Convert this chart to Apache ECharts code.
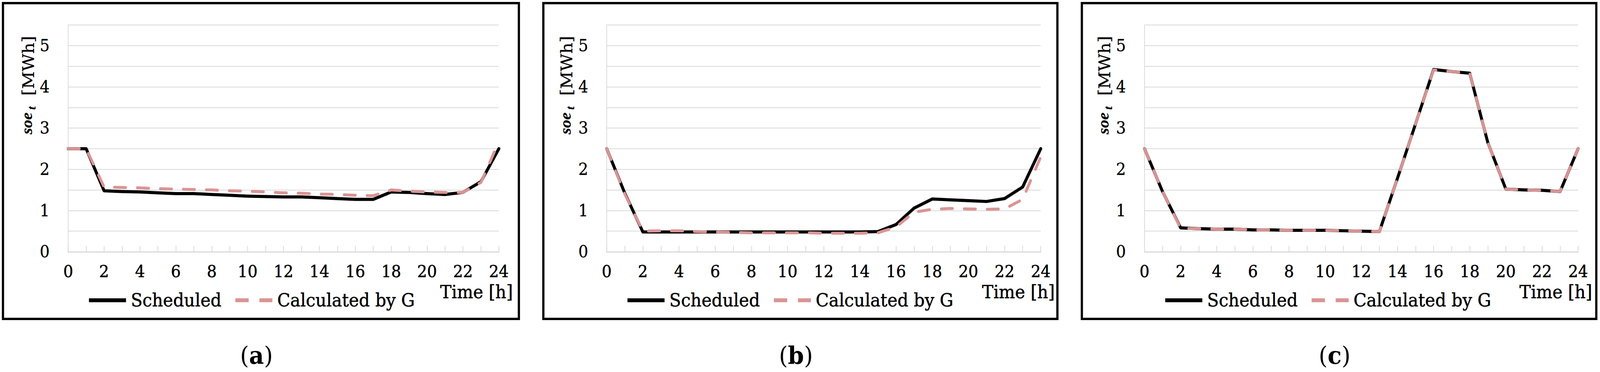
<!DOCTYPE html>
<html>
<head>
<meta charset="utf-8">
<script src="https://cdn.jsdelivr.net/npm/echarts@6/dist/echarts.min.js"></script>
<style>
  html, body { margin: 0; padding: 0; background: #fff; overflow: hidden; }
  #chart { width: 4317px; height: 953px; transform-origin: 0 0; }
</style>
</head>
<body>
<div id="chart"></div>
<script>
// ---- data ----
const hours = [0,1,2,3,4,5,6,7,8,9,10,11,12,13,14,15,16,17,18,19,20,21,22,23,24];
const xTicks = [0,2,4,6,8,10,12,14,16,18,20,22,24];
const yTicks = [0,1,2,3,4,5];
const seriesNames = ['Scheduled', 'Calculated by G'];
const panelLetters = ['a', 'b', 'c'];

const scheduledA = [2.5, 2.5, 1.48, 1.46, 1.45, 1.43, 1.41, 1.41, 1.39, 1.37, 1.35, 1.34, 1.33, 1.33, 1.31, 1.29, 1.27, 1.27, 1.45, 1.44, 1.41, 1.39, 1.44, 1.7, 2.5];
const calculatedA = [2.5, 2.5, 1.57, 1.56, 1.55, 1.53, 1.52, 1.51, 1.5, 1.48, 1.47, 1.45, 1.43, 1.42, 1.4, 1.39, 1.37, 1.36, 1.5, 1.47, 1.45, 1.44, 1.44, 1.68, 2.67];

const scheduledB = [2.5, 1.42, 0.48, 0.48, 0.48, 0.48, 0.48, 0.48, 0.48, 0.48, 0.48, 0.48, 0.48, 0.48, 0.48, 0.49, 0.66, 1.06, 1.28, 1.26, 1.24, 1.22, 1.29, 1.57, 2.5];
const calculatedB = [2.5, 1.4, 0.5, 0.51, 0.51, 0.49, 0.48, 0.47, 0.46, 0.46, 0.46, 0.46, 0.45, 0.45, 0.45, 0.46, 0.6, 0.96, 1.03, 1.05, 1.04, 1.03, 1.04, 1.27, 2.3];

const scheduledC = [2.5, 1.46, 0.58, 0.56, 0.55, 0.55, 0.53, 0.53, 0.52, 0.52, 0.52, 0.51, 0.5, 0.49, 1.78, 3.1, 4.42, 4.37, 4.33, 2.65, 1.52, 1.5, 1.49, 1.46, 2.5];
const calculatedC = [2.5, 1.46, 0.57, 0.56, 0.55, 0.55, 0.53, 0.53, 0.52, 0.52, 0.52, 0.51, 0.5, 0.49, 1.78, 3.1, 4.41, 4.37, 4.33, 2.65, 1.52, 1.5, 1.49, 1.46, 2.5];

const scheduledAll = [scheduledA, scheduledB, scheduledC];
const calculatedAll = [calculatedA, calculatedB, calculatedC];

// ---- layout (positions / styles only) ----
const W = 4317, H = 953;
const layout = [
  { frameX: 8,    frameW: 1392, gridLeft: 184,  gridW: 1162 },
  { frameX: 1466, frameW: 1387, gridLeft: 1637, gridW: 1171 },
  { frameX: 2919, frameW: 1388, gridLeft: 3088, gridW: 1170 }
];
const GRID_TOP = 64, GRID_H = 581;
const FONT = "'DejaVu Serif', serif";
const ITALIC_FONT = "'Liberation Serif', serif";
const GRAY = '#D9D9D9';
const PINK = '#D99594';
const LINE_W = 8;
const TXT_BORDER = 0.7;

const grids = [], xAxes = [], yAxes = [], series = [], legends = [], graphics = [];

function plainText(x, y, rotation, text, st, align, vAlign) {
  return {
    type: 'text', x: x, y: y, rotation: rotation,
    style: Object.assign({
      text: text, fill: '#000', stroke: '#000', lineWidth: TXT_BORDER,
      align: align, verticalAlign: vAlign
    }, st)
  };
}

layout.forEach((p, i) => {
  grids.push({ left: p.gridLeft, top: GRID_TOP, width: p.gridW, height: GRID_H, containLabel: false });

  xAxes.push({
    type: 'value', gridIndex: i, min: 0, max: 24, interval: 2,
    axisLine: { show: true, lineStyle: { color: GRAY, width: 3 } },
    axisTick: { show: true, inside: true, length: 15, lineStyle: { color: GRAY, width: 2 } },
    minorTick: { show: true, splitNumber: 2, length: 15, lineStyle: { color: GRAY, width: 2 } },
    splitLine: { show: false },
    axisLabel: {
      margin: 30, fontFamily: FONT, fontSize: 42, color: '#000',
      textBorderColor: '#000', textBorderWidth: TXT_BORDER,
      formatter: v => (xTicks.indexOf(v) >= 0 ? String(v) : '')
    }
  });

  yAxes.push({
    type: 'value', gridIndex: i, min: 0, max: 5.5, interval: 0.5,
    axisLine: { show: true, lineStyle: { color: GRAY, width: 2 } },
    axisTick: { show: false },
    splitLine: { show: true, lineStyle: { color: GRAY, width: 2 } },
    axisLabel: {
      margin: 50, fontFamily: FONT, fontSize: 42, color: '#000',
      textBorderColor: '#000', textBorderWidth: 0.4,
      formatter: v => (yTicks.indexOf(v) >= 0 ? String(v) : '')
    }
  });

  series.push({
    name: seriesNames[0], type: 'line', xAxisIndex: i, yAxisIndex: i,
    data: hours.map((h, k) => [h, scheduledAll[i][k]]),
    symbol: 'none', showSymbol: false, smooth: false, z: 2,
    lineStyle: { color: '#000', width: LINE_W, cap: 'round', join: 'round' },
    itemStyle: { color: '#000' }
  });
  series.push({
    name: seriesNames[1], type: 'line', xAxisIndex: i, yAxisIndex: i,
    data: hours.map((h, k) => [h, calculatedAll[i][k]]),
    symbol: 'none', showSymbol: false, smooth: false, z: 3,
    lineStyle: { color: PINK, width: LINE_W - 0.5, type: [30, 32], cap: 'round', join: 'round' },
    itemStyle: { color: PINK }
  });

  legends.push({
    data: [
      { name: seriesNames[0], icon: 'path://M0,0L100,0L100,10L0,10Z' },
      { name: seriesNames[1], icon: 'path://M0,0L36,0L36,10L0,10Z M65,0L100,0L100,10L65,10Z' }
    ],
    left: p.gridLeft + 51, top: 741, orient: 'horizontal',
    itemWidth: 100, itemHeight: 10, itemGap: 37, selectedMode: false,
    textStyle: { fontFamily: FONT, fontSize: 46, color: '#000', padding: [0, 0, 0, 8],
                 textBorderColor: '#000', textBorderWidth: TXT_BORDER }
  });

  // frame
  graphics.push({
    type: 'rect', shape: { x: p.frameX, y: 8, width: p.frameW, height: 809 },
    style: { fill: 'none', stroke: '#000', lineWidth: 6 }, z: 10
  });

  // y-axis title (rotated): soe_t [MWh]
  const L = p.gridLeft;
  graphics.push(plainText(L - 90, 344, Math.PI / 2, 'soe',
    { fontFamily: ITALIC_FONT, fontStyle: 'italic', fontWeight: 'bold', fontSize: 42, lineWidth: 0.3 }, 'left', 'bottom'));
  graphics.push(plainText(L - 83, 281, Math.PI / 2, 't',
    { fontFamily: ITALIC_FONT, fontStyle: 'italic', fontWeight: 'bold', fontSize: 30, lineWidth: 0.3 }, 'left', 'bottom'));
  graphics.push(plainText(L - 86, 245, Math.PI / 2, '[MWh]',
    { fontFamily: FONT, fontSize: 44, lineWidth: 0.4 }, 'left', 'bottom'));

  // x-axis title
  graphics.push(plainText(L + p.gridW + 38, 748, 0, 'Time [h]',
    { fontFamily: FONT, fontSize: 46 }, 'right', 'middle'));

  // caption
  graphics.push({
    type: 'text', x: p.frameX + p.frameW / 2 - 12, y: 910,
    style: {
      text: '{p|(}{b|' + panelLetters[i] + '}{p|)}',
      align: 'center', verticalAlign: 'middle',
      rich: {
        p: { fontFamily: FONT, fontSize: 62, color: '#000' },
        b: { fontFamily: FONT, fontSize: 62, fontWeight: 'bold', color: '#000' }
      }
    }
  });
});

const el = document.getElementById('chart');
function fit() {
  const sx = (window.innerWidth || W) / W;
  const sy = (window.innerHeight || H) / H;
  el.style.transform = 'scale(' + sx + ',' + sy + ')';
}
fit();

const chart = echarts.init(el, null, { renderer: 'svg', width: W, height: H });
chart.setOption({
  animation: false,
  backgroundColor: '#fff',
  grid: grids, xAxis: xAxes, yAxis: yAxes,
  legend: legends, series: series, graphic: graphics
});
window.addEventListener('resize', fit);
</script>
</body>
</html>
